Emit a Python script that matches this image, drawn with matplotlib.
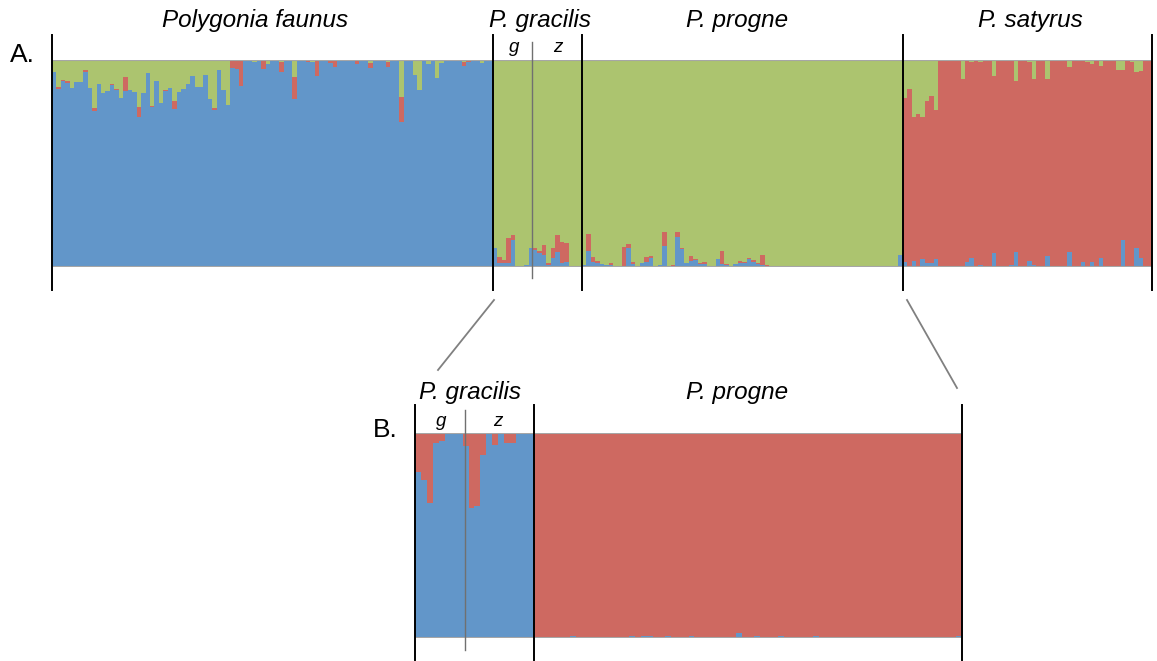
import numpy as np
import matplotlib
matplotlib.use("Agg")
import matplotlib.pyplot as plt
from matplotlib.lines import Line2D

# --- colours ---
BLUE = '#6296C9'
RED = '#CE6961'
GREEN = '#ACC46F'
GRAY = '#A6A6A6'

# --- Panel A (K=3) ---
# P. faunus: green (top) and red (middle); blue is the rest
faunus_green = [0.06, 0.13, 0.097, 0.103, 0.135, 0.108, 0.108, 0.05, 0.135, 0.233, 0.116,
                0.16, 0.148, 0.116, 0.14, 0.185, 0.084, 0.145, 0.153, 0.225, 0.16, 0.064,
                0.222, 0.103, 0.208, 0.145, 0.135, 0.2, 0.153, 0.14, 0.116, 0.079, 0.129,
                0.129, 0.071, 0.188, 0.232, 0.048, 0.143, 0.216, 0.003, 0.003, 0, 0, 0,
                0.01, 0, 0, 0.02, 0, 0, 0.01, 0, 0, 0.084, 0, 0, 0, 0.01, 0, 0, 0, 0, 0, 0,
                0, 0, 0, 0, 0, 0, 0.016, 0, 0, 0, 0.01, 0, 0, 0.18, 0, 0, 0.071, 0.145, 0,
                0.02, 0, 0.089, 0.015, 0, 0, 0, 0, 0.008, 0, 0, 0, 0.013, 0, 0]
faunus_red = [0, 0.008, 0.006, 0.006, 0, 0, 0, 0.008, 0, 0.011, 0, 0, 0, 0.006, 0.006, 0,
              0.064, 0, 0, 0.048, 0, 0, 0.006, 0, 0, 0.006, 0, 0.035, 0, 0, 0, 0, 0,
              0, 0, 0, 0.01, 0, 0, 0, 0.035, 0.04, 0.124, 0, 0, 0, 0, 0.042, 0, 0, 0,
              0.048, 0, 0, 0.106, 0, 0, 0.01, 0, 0.076, 0.006, 0.006, 0.016, 0.035, 0.006,
              0.006, 0, 0, 0.02, 0, 0, 0.023, 0, 0, 0, 0.023, 0, 0, 0.12, 0, 0.006, 0, 0,
              0, 0, 0, 0, 0, 0, 0, 0, 0, 0.02, 0.01, 0, 0, 0, 0, 0]

# P. gracilis (g: 9, z: 11): blue (bottom) and red (middle); green is the rest
gracilis_blue = [0.09, 0.02, 0.018, 0.018, 0.13, 0.0, 0.0, 0.01, 0.09,
                 0.082, 0.07, 0.058, 0.01, 0.042, 0.074, 0.018, 0.022, 0, 0, 0]
gracilis_red = [0.0, 0.03, 0.016, 0.12, 0.027, 0.006, 0.0, 0.0, 0.0,
                0.008, 0.006, 0.048, 0.01, 0.048, 0.08, 0.105, 0.092, 0, 0, 0]

# P. progne: blue (bottom) and red (middle); green is the rest
progne_blue = [0.01, 0.079, 0.026, 0.02, 0.016, 0.01, 0.011, 0, 0, 0, 0.093, 0.013, 0,
               0.02, 0.026, 0.042, 0, 0.01, 0.103, 0, 0, 0.147, 0.087, 0.02, 0.029, 0.032,
               0.016, 0.013, 0, 0, 0.037, 0.016, 0.01, 0, 0.016, 0.02, 0.02, 0.037, 0.026,
               0.014, 0.01, 0, 0,
               0, 0, 0, 0, 0, 0, 0, 0, 0, 0, 0, 0, 0, 0, 0, 0, 0, 0, 0, 0, 0, 0, 0, 0, 0,
               0, 0, 0, 0.06]
progne_red = [0, 0.08, 0.02, 0.008, 0, 0, 0.006, 0, 0, 0.097, 0.016, 0.01, 0, 0, 0.02,
              0.011, 0, 0, 0.064, 0, 0.01, 0.021, 0.006, 0, 0.024, 0.005, 0.005, 0.01, 0,
              0, 0, 0.063, 0.006, 0, 0, 0.008, 0.005, 0.005, 0.006, 0.006, 0.05, 0.01, 0,
              0, 0, 0, 0, 0, 0, 0, 0, 0, 0, 0, 0, 0, 0.006, 0, 0, 0, 0, 0, 0, 0.006, 0, 0,
              0.006, 0, 0, 0, 0, 0]

# P. satyrus: green (top) and blue (bottom); red is the rest
satyrus_green = [0.184, 0.138, 0.275, 0.26, 0.275, 0.2, 0.172, 0.243, 0.005, 0, 0, 0, 0,
                 0.092, 0, 0.01, 0, 0.01, 0, 0, 0.077, 0, 0, 0, 0, 0.103, 0, 0, 0.01, 0.092,
                 0, 0, 0.09, 0, 0, 0, 0, 0.035, 0, 0, 0, 0.01, 0.02, 0, 0.03, 0, 0, 0,
                 0.048, 0.048, 0, 0.01, 0.058, 0.052, 0, 0]
satyrus_blue = [0.022, 0, 0.029, 0, 0.037, 0.02, 0.02, 0.037, 0, 0, 0, 0, 0, 0, 0.022,
                0.042, 0, 0.01, 0, 0, 0.066, 0, 0, 0, 0.01, 0.071, 0, 0, 0.029, 0.01, 0, 0,
                0.053, 0, 0, 0, 0, 0.071, 0, 0, 0.022, 0, 0.022, 0, 0.042, 0, 0, 0, 0,
                0.13, 0, 0, 0.09, 0.042, 0, 0]

# --- Panel B (K=2) ---
gracilis_b_red = [0.19, 0.23, 0.343, 0.047, 0.04, 0.007, 0.004, 0.004, 0.065,
                  0.365, 0.357, 0.108, 0.005, 0.06, 0.0, 0.05, 0.05, 0.005, 0.0, 0.0]
progne_b_blue = [0, 0, 0, 0, 0, 0, 0.012, 0, 0, 0, 0, 0, 0, 0, 0, 0, 0.01, 0, 0.01,
                 0.012, 0, 0, 0.012, 0, 0, 0, 0.01, 0, 0, 0, 0, 0, 0, 0, 0.025, 0, 0,
                 0.012, 0, 0, 0, 0.012, 0, 0, 0, 0, 0, 0.01, 0, 0, 0, 0, 0, 0, 0, 0, 0,
                 0, 0, 0, 0, 0, 0, 0, 0, 0, 0, 0, 0, 0, 0, 0.012]

labels_a = ['Polygonia faunus', 'P. gracilis', 'P. progne', 'P. satyrus']
labels_b = ['P. gracilis', 'P. progne']

# --- assemble ---
fg, fr = np.array(faunus_green), np.array(faunus_red)
gb, gr = np.array(gracilis_blue), np.array(gracilis_red)
pb, pr = np.array(progne_blue), np.array(progne_red)
sg, sb = np.array(satyrus_green), np.array(satyrus_blue)

blueA = np.concatenate([1 - fg - fr, gb, pb, sb])
redA = np.concatenate([fr, gr, pr, 1 - sg - sb])
greenA = np.concatenate([fg, 1 - gb - gr, 1 - pb - pr, sg])
bounds_a = np.cumsum([0, len(fg), len(gb), len(pb), len(sg)])

blueB = np.concatenate([1 - np.array(gracilis_b_red), progne_b_blue])
redB = 1 - blueB
bounds_b = np.cumsum([0, len(gracilis_b_red), len(progne_b_blue)])

plt.rcParams['font.family'] = ['Liberation Sans', 'DejaVu Sans']

W, H = 1157, 661
fig = plt.figure(figsize=(W / 100, H / 100), dpi=100)


def px_box(x0, y0, x1, y1):
    return [x0 / W, 1 - y1 / H, (x1 - x0) / W, (y1 - y0) / H]


def ftext(x, y, s, **kw):
    fig.text(x / W, 1 - y / H, s, ha='center', va='center', **kw)


def stack(ax, x, layers):
    bottom = np.zeros(len(x))
    for vals, col in layers:
        ax.bar(x, vals, bottom=bottom, width=1, align='edge', color=col,
               linewidth=0, antialiased=False)
        bottom = bottom + vals


# Panel A
axA = fig.add_axes(px_box(52, 60, 1152, 267))
xA = np.arange(len(blueA))
stack(axA, xA, [(blueA, BLUE), (redA, RED), (greenA, GREEN)])
axA.set_xlim(0, len(blueA))
axA.set_ylim(0, 1)
axA.axis('off')
axA.axhline(0, color=GRAY, lw=1.5)
axA.axhline(1, color=GRAY, lw=1.5)
for b in bounds_a:
    axA.axvline(b, ymin=-0.111, ymax=1.121, color='black', lw=1.4, clip_on=False)
axA.axvline(bounds_a[1] + 8.8, ymin=-0.053, ymax=1.087, color='#707070', lw=1, clip_on=False)

# Panel B
axB = fig.add_axes(px_box(415, 433, 962, 638))
xB = np.arange(len(blueB))
stack(axB, xB, [(blueB, BLUE), (redB, RED)])
axB.set_xlim(0, len(blueB))
axB.set_ylim(0, 1)
axB.axis('off')
axB.axhline(0, color=GRAY, lw=1.5)
axB.axhline(1, color=GRAY, lw=1.5)
for b in bounds_b:
    axB.axvline(b, ymin=-0.107, ymax=1.137, color='black', lw=1.4, clip_on=False)
axB.axvline(8.4, ymin=-0.059, ymax=1.112, color='#707070', lw=1, clip_on=False)

# connecting lines
for (x1, y1), (x2, y2) in [((494, 300), (438, 370)), ((907, 300), (957, 388))]:
    fig.add_artist(Line2D([x1 / W, x2 / W], [1 - y1 / H, 1 - y2 / H],
                          transform=fig.transFigure, color='#808080', lw=1.3))

# labels
fs = 17.5
for lab, x in zip(labels_a, [255, 540, 737, 1030]):
    ftext(x, 20, lab, fontsize=fs, style='italic')
ftext(514, 48, 'g', fontsize=13.5, style='italic')
ftext(558, 48, 'z', fontsize=13.5, style='italic')
ftext(22, 55, 'A.', fontsize=19)

for lab, x in zip(labels_b, [470, 737]):
    ftext(x, 392, lab, fontsize=fs, style='italic')
ftext(441, 422, 'g', fontsize=13.5, style='italic')
ftext(498, 422, 'z', fontsize=13.5, style='italic')
ftext(385, 430, 'B.', fontsize=19)

fig.savefig('out.png', dpi=100)
